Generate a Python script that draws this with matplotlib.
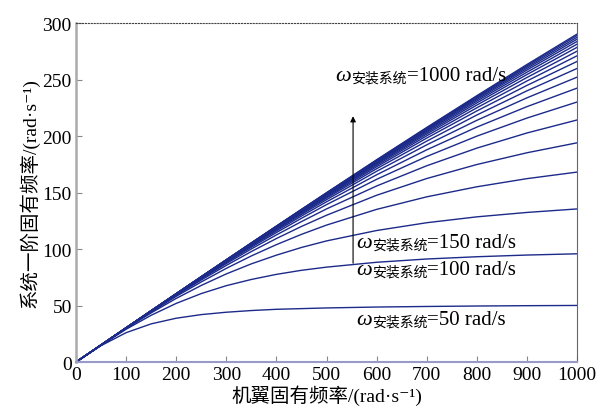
import numpy as np
import matplotlib
matplotlib.use('Agg')
import matplotlib.pyplot as plt
from matplotlib.offsetbox import TextArea, HPacker, AnnotationBbox

plt.rcParams['font.family'] = ['Liberation Serif', 'Noto Sans CJK SC', 'DejaVu Serif']

# 机翼固有频率 (rad/s)
x_wing = [0, 50, 100, 150, 200, 250, 300, 350, 400, 450, 500, 600, 700, 800, 900, 1000]

# 安装系统频率 (rad/s), one curve each
w_mount = [50, 100, 150, 200, 250, 300, 350, 400, 450, 500,
           550, 600, 650, 700, 750, 800, 850, 900, 950, 1000]

# 系统一阶固有频率, one row per w_mount
y_sys = [
    [0, 14.5, 26.0, 33.8, 38.8, 42.0, 44.1, 45.6, 46.7, 47.3, 47.9, 48.7, 49.2, 49.6, 49.9, 50.1],
    [0, 14.9, 29.0, 41.4, 51.9, 60.6, 67.6, 73.1, 77.6, 81.2, 84.0, 88.3, 91.2, 93.2, 94.7, 95.8],
    [0, 15.0, 29.7, 43.5, 56.3, 67.8, 78.0, 86.9, 94.6, 101.4, 107.2, 116.4, 123.3, 128.5, 132.4, 135.5],
    [0, 15.1, 30.0, 44.3, 58.1, 70.9, 82.9, 93.9, 103.9, 113.0, 121.2, 135.1, 146.2, 155.1, 162.3, 168.1],
    [0, 15.1, 30.1, 44.7, 58.9, 72.6, 85.5, 97.8, 109.3, 120.0, 129.9, 147.6, 162.4, 174.8, 185.2, 194.0],
    [0, 15.1, 30.2, 44.9, 59.4, 73.5, 87.1, 100.1, 112.5, 124.3, 135.5, 155.8, 173.7, 189.3, 202.7, 214.2],
    [0, 15.1, 30.2, 45.0, 59.7, 74.1, 88.1, 101.6, 114.6, 127.2, 139.3, 161.7, 181.9, 199.9, 215.9, 230.1],
    [0, 15.1, 30.2, 45.1, 59.9, 74.5, 88.7, 102.6, 116.0, 129.2, 141.8, 165.7, 187.8, 207.9, 226.0, 242.4],
    [0, 15.1, 30.2, 45.2, 60.1, 74.7, 89.2, 103.3, 117.1, 130.6, 143.7, 168.8, 192.2, 213.9, 233.8, 252.1],
    [0, 15.1, 30.2, 45.2, 60.2, 74.9, 89.5, 103.8, 117.9, 131.6, 145.1, 171.1, 195.5, 218.6, 240.0, 259.8],
    [0, 15.1, 30.2, 45.3, 60.2, 75.1, 89.7, 104.2, 118.4, 132.4, 146.1, 172.8, 198.2, 222.2, 244.8, 266.0],
    [0, 15.1, 30.3, 45.3, 60.3, 75.2, 89.9, 104.5, 118.9, 133.0, 147.0, 174.1, 200.2, 225.0, 248.7, 271.0],
    [0, 15.1, 30.3, 45.4, 60.3, 75.2, 90.0, 104.7, 119.2, 133.5, 147.7, 175.2, 201.8, 227.4, 251.8, 275.1],
    [0, 15.1, 30.3, 45.4, 60.4, 75.3, 90.2, 104.9, 119.5, 133.9, 148.2, 176.0, 203.1, 229.3, 254.4, 278.5],
    [0, 15.1, 30.3, 45.4, 60.4, 75.4, 90.3, 105.0, 119.7, 134.2, 148.6, 176.8, 204.2, 230.9, 256.5, 281.3],
    [0, 15.1, 30.3, 45.4, 60.4, 75.4, 90.3, 105.2, 119.9, 134.5, 148.9, 177.4, 205.1, 232.2, 258.4, 283.7],
    [0, 15.1, 30.3, 45.4, 60.5, 75.5, 90.4, 105.2, 120.0, 134.7, 149.2, 177.9, 205.9, 233.3, 259.9, 285.7],
    [0, 15.1, 30.3, 45.4, 60.5, 75.5, 90.5, 105.3, 120.1, 134.8, 149.5, 178.3, 206.5, 234.2, 261.2, 287.4],
    [0, 15.1, 30.3, 45.4, 60.5, 75.5, 90.5, 105.4, 120.3, 135.0, 149.7, 178.7, 207.1, 235.0, 262.3, 289.0],
    [0, 15.1, 30.3, 45.4, 60.5, 75.6, 90.5, 105.5, 120.3, 135.1, 149.8, 179.0, 207.6, 235.7, 263.3, 290.2],
]

# labelled curves: (w, x, y) of the text
labels = [(1000, 518, 254), (150, 559, 106), (100, 559, 82), (50, 559, 38)]

fig = plt.figure(figsize=(5.98, 4.14), dpi=100)
ax = fig.add_axes([0.127, 0.123, 0.838, 0.819])

for w, ys in zip(w_mount, y_sys):
    ax.plot(x_wing, ys, '-', color='#1c2a8a', lw=1.0)


def omega_label(ax, x, y, w):
    parts = [TextArea('ω', textprops=dict(fontsize=16, style='italic', family='Liberation Serif')),
             TextArea('安装系统', textprops=dict(fontsize=10, family='Noto Sans CJK SC')),
             TextArea('=%d rad/s' % w, textprops=dict(fontsize=15, family='Liberation Serif'))]
    box = HPacker(children=parts, align='bottom', pad=0, sep=0)
    ab = AnnotationBbox(box, (x, y), xycoords='data', box_alignment=(0, 0.5),
                        frameon=False, pad=0)
    ax.add_artist(ab)


for w, lx, ly in labels:
    omega_label(ax, lx, ly, w)

# arrow: increasing w
ax.annotate('', xy=(553, 220), xytext=(553, 85),
            arrowprops=dict(arrowstyle='-|>', color='black', lw=0.8, mutation_scale=8))

ax.set_xlim(0, 1000)
ax.set_ylim(0, 300)
ax.set_xticks(np.arange(0, 1001, 100))
ax.set_yticks(np.arange(0, 301, 50))
ax.tick_params(direction='in', length=4, color='#888888', labelsize=14, pad=3)

ax.spines['left'].set_color('#aaaaaa')
ax.spines['left'].set_linewidth(1.8)
ax.spines['bottom'].set_color('#9a9ac8')
ax.spines['bottom'].set_linewidth(1.5)
ax.spines['right'].set_color('#666666')
ax.spines['top'].set_color('#444444')
ax.spines['top'].set_linestyle(':')

ax.set_xlabel('机翼固有频率/(rad·s⁻¹)', fontsize=14, labelpad=1)
ax.set_ylabel('系统一阶固有频率/(rad·s⁻¹)', fontsize=14, labelpad=2)

plt.savefig('out.png', dpi=100)
